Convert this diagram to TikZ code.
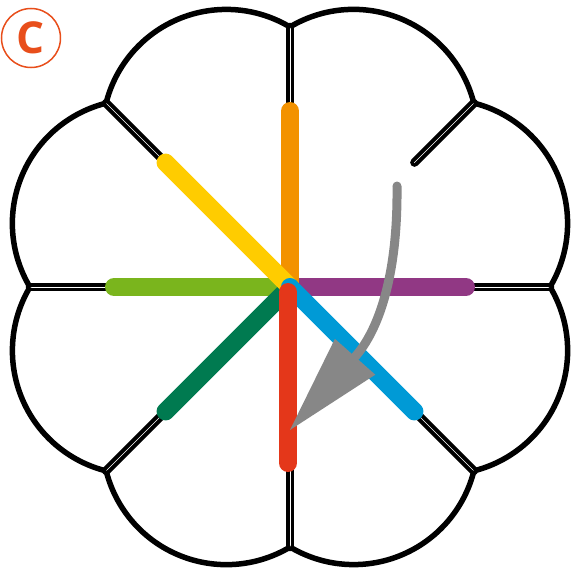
\documentclass[tikz,border=0pt]{standalone}
\usepackage{fontspec}
\setsansfont{Open Sans}
\usetikzlibrary{arrows.meta}
\definecolor{fwred}{RGB}{228,55,26}
\definecolor{fworange}{RGB}{243,146,0}
\definecolor{fwyellow}{RGB}{255,204,0}
\definecolor{fwlime}{RGB}{122,181,29}
\definecolor{fwgreen}{RGB}{0,122,80}
\definecolor{fwblue}{RGB}{0,154,214}
\definecolor{fwpurple}{RGB}{145,56,132}
\definecolor{fwgray}{RGB}{135,135,135}
\definecolor{fwlabel}{RGB}{232,78,27}

\begin{document}
\begin{tikzpicture}[x=1pt,y=1pt,
    petal/.style={draw=black,line width=5.5pt},
    spoke/.style={draw=black,line width=4pt,double=white,double distance=0.6pt,line cap=round},
    ray/.style={line width=18pt,line cap=round},
    every node/.style={font=\sffamily\bfseries}]
    \useasboundingbox (-290,-287) rectangle (281,287);
    % hub and petal tips
    \coordinate (O) at (0,0);
    \coordinate (v0) at (0:260);
    \coordinate (v1) at (45:260);
    \coordinate (v2) at (90:260);
    \coordinate (v3) at (135:260);
    \coordinate (v4) at (180:260);
    \coordinate (v5) at (225:260);
    \coordinate (v6) at (270:260);
    \coordinate (v7) at (315:260);
    % inner ends of the spokes
    \coordinate (s0) at (0:176);
    \coordinate (s1) at (45:176);
    \coordinate (s2) at (90:176);
    \coordinate (s3) at (135:176);
    \coordinate (s4) at (180:176);
    \coordinate (s5) at (225:176);
    \coordinate (s6) at (270:176);
    \coordinate (s7) at (315:176);
    \draw[spoke] (v0) -- (s0);
    \draw[spoke] (v1) -- (s1);
    \draw[spoke] (v2) -- (s2);
    \draw[spoke] (v3) -- (s3);
    \draw[spoke] (v4) -- (s4);
    \draw[spoke] (v5) -- (s5);
    \draw[spoke] (v6) -- (s6);
    \draw[spoke] (v7) -- (s7);
    % petals
    \draw[petal] (v0) arc[start angle=-30.9,end angle=75.9,radius=124];
    \draw[petal] (v1) arc[start angle=14.1,end angle=120.9,radius=124];
    \draw[petal] (v2) arc[start angle=59.1,end angle=165.9,radius=124];
    \draw[petal] (v3) arc[start angle=104.1,end angle=210.9,radius=124];
    \draw[petal] (v4) arc[start angle=149.1,end angle=255.9,radius=124];
    \draw[petal] (v5) arc[start angle=194.1,end angle=300.9,radius=124];
    \draw[petal] (v6) arc[start angle=239.1,end angle=345.9,radius=124];
    \draw[petal] (v7) arc[start angle=284.1,end angle=390.9,radius=124];
    % coloured rays
    \coordinate (c6) at (-2,-5);
    \coordinate (e6) at (-2,-176);
    \draw[ray,fwpurple] (O) -- (s0);
    \draw[ray,fworange] (O) -- (s2);
    \draw[ray,fwlime] (O) -- (s4);
    \draw[ray,fwgreen] (O) -- (s5);
    \draw[ray,fwyellow] (O) -- (s3);
    \draw[ray,fwblue] (O) -- (s7);
    \draw[ray,fwred] (c6) -- (e6);
    % turning arrow
    \coordinate (a0) at (107,101);
    \coordinate (a1) at (0,-143);
    \draw[fwgray,line width=9pt,line cap=round,
          -{Triangle[length=98pt,width=54pt,line width=0pt]}]
          (a0) .. controls (108,10) and (88,-44) .. (a1);
    % panel label
    \node[draw=fwlabel,line width=1.5pt,circle,minimum size=59pt,
          inner sep=0pt,text=fwlabel,font=\sffamily\bfseries\fontsize{44}{44}\selectfont]
          (lbl) at (-259,249) {C};
\end{tikzpicture}
\end{document}
